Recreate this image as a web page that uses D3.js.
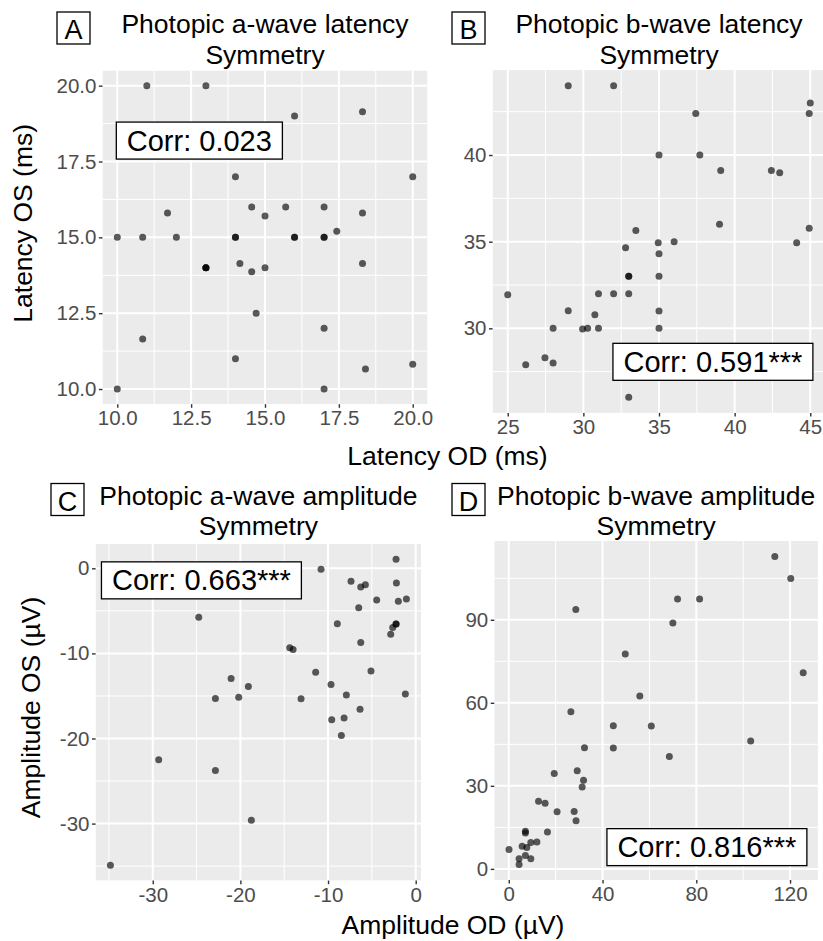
<!DOCTYPE html>
<html>
<head>
<meta charset="utf-8">
<script src="https://cdn.jsdelivr.net/npm/d3@7"></script>
<style>
  html, body { margin: 0; padding: 0; background: #fff; }
  svg { display: block; font-family: "Liberation Sans", Arial, Helvetica, sans-serif; }
</style>
</head>
<body>
<svg id="chart" width="823" height="941"></svg>
<script>
// ---------------- DATA ----------------
// A: Photopic a-wave latency (ms)
const aLatOD = [11, 13, 16, 18.3, 14, 20, 11.7, 14.55, 15.7, 17, 15, 18.3, 10, 10.86, 12, 14, 14, 16, 16, 17, 17, 17.43, 13, 13, 13, 14.15, 14.55, 15, 18.3, 14.7, 17, 10.86, 14, 18.4, 20, 10, 17];
const aLatOS = [20, 20, 19, 19.14, 17, 17, 15.8, 16, 16, 16, 15.7, 15.8, 15, 15, 15, 15, 15, 15, 15, 15, 15, 15.2, 14, 14, 14, 14.14, 13.87, 14, 14.14, 12.5, 12, 11.65, 11, 10.66, 10.82, 10, 10];
// B: Photopic b-wave latency (ms)
const bLatOD = [29, 32, 45, 44.93, 37.43, 35, 37.7, 39.08, 42.43, 42.98, 39, 44.93, 44.1, 33.47, 32.79, 34.95, 36, 35, 33, 33, 35, 25, 31, 32, 33, 29, 30.76, 35, 28, 29.95, 30.28, 31, 35, 26.19, 27.46, 28, 33];
const bLatOS = [44, 44, 43, 42.4, 42.4, 40, 40, 39.1, 39.1, 38.98, 36, 35.77, 34.94, 35.65, 34.65, 34.94, 35, 34.3, 33, 33, 33, 31.94, 32, 32, 32, 31.02, 30.79, 31, 30, 29.96, 30, 30, 30, 27.9, 28.31, 28, 26.02];
// C: Photopic a-wave amplitude (µV)
const aAmpOD = [-2.24, -10.8, -7.38, -6.27, -5.74, -2.2, -4.45, -1.98, -1.06, -6.5, -24.75, -8.94, -2.24, -2.24, -2.62, -2.85, -6.27, -14.37, -13.99, -11.41, -5.1, -21.06, -9.66, -19.09, -22.85, -20.19, -13.08, -7.91, -1.18, -6.35, -9.58, -8.17, -8.48, -29.32, -22.85, -18.75, -34.83];
const aAmpOS = [1.06, -0.12, -1.53, -2.2, -1.92, -1.73, -3.73, -3.88, -3.61, -4.63, -5.76, -6.51, -6.55, -6.55, -6.94, -7.76, -8.71, -9.33, -9.53, -12.2, -12.08, -12.94, -13.65, -13.88, -15.29, -15.14, -15.33, -14.9, -14.78, -16.55, -17.8, -17.6, -19.65, -22.5, -23.76, -29.6, -34.9];
// D: Photopic b-wave amplitude (µV)
const bAmpOD = [113.5, 120.3, 72, 81.4, 28.6, 70, 49.7, 125.6, 55.9, 26.5, 44.6, 60.8, 103.2, 32.3, 44.6, 68.5, 19.4, 29.2, 31.9, 31.3, 12.7, 15.5, 20.6, 27.9, 28.7, 16.5, 7.1, 7.1, 12.0, 9.4, 5.7, 7.7, 0.1, 7.1, 4.4, 9.4, 4.4];
const bAmpOS = [112.9, 104.9, 97.5, 97.5, 93.7, 88.8, 77.6, 70.9, 62.5, 56.8, 51.7, 51.6, 46.2, 43.8, 43.7, 40.6, 34.5, 35.5, 32.0, 29.6, 24.4, 23.7, 20.6, 20.7, 17.4, 13.3, 13.6, 13.0, 9.7, 9.5, 8.2, 7.7, 7.0, 4.8, 3.7, 3.7, 1.55];

const ticksLatA = [10, 12.5, 15, 17.5, 20];
const ticksLatBx = [25, 30, 35, 40, 45];
const ticksLatBy = [30, 35, 40];
const ticksAmpCx = [-30, -20, -10, 0];
const ticksAmpCy = [-30, -20, -10, 0];
const ticksAmpDx = [0, 40, 80, 120];
const ticksAmpDy = [0, 30, 60, 90];

const titles = ["Photopic a-wave latency", "Photopic b-wave latency", "Photopic a-wave amplitude", "Photopic b-wave amplitude"];
const subtitle = "Symmetry";
const tags = ["A", "B", "C", "D"];
const corrLabels = ["Corr: 0.023", "Corr: 0.591***", "Corr: 0.663***", "Corr: 0.816***"];
const xTitles = ["Latency OD (ms)", "Amplitude OD (µV)"];
const yTitles = ["Latency OS (ms)", "Amplitude OS (µV)"];

// ---------------- LAYOUT ----------------
const panels = [
  { x: aLatOD, y: aLatOS, xt: ticksLatA, yt: ticksLatA, fmt: d3.format(".1f"),
    rect: [102.5, 70.5, 427.5, 404.2], tag: [57, 12], tb: [32.5, 63.5], corr: [0.298, 0.21] },
  { x: bLatOD, y: bLatOS, xt: ticksLatBx, yt: ticksLatBy, fmt: d => String(d),
    rect: [492.6, 70.1, 825.4, 412.9], tag: [452, 12], tb: [32.5, 63.5], corr: [0.662, 0.851] },
  { x: aAmpOD, y: aAmpOS, xt: ticksAmpCx, yt: ticksAmpCy, fmt: d => String(d),
    rect: [95.6, 544, 421.2, 880.6], tag: [51, 483.5], tb: [505, 535], corr: [0.325, 0.108] },
  { x: bAmpOD, y: bAmpOS, xt: ticksAmpDx, yt: ticksAmpDy, fmt: d => String(d),
    rect: [494.3, 541, 817.9, 880], tag: [452, 483.5], tb: [505, 535], corr: [0.657, 0.903] }
];

const svg = d3.select("#chart");
svg.append("rect").attr("width", 823).attr("height", 941).attr("fill", "#fff");

function padExtent(arr) {
  const e = d3.extent(arr);
  const p = (e[1] - e[0]) * 0.05;
  return [e[0] - p, e[1] + p];
}
function minorBreaks(major, dom) {
  const bd = major[1] - major[0];
  const b = [major[0] - bd, ...major, major[major.length - 1] + bd];
  const out = [];
  for (let i = 0; i < b.length - 1; i++) {
    const m = (b[i] + b[i + 1]) / 2;
    if (m >= dom[0] && m <= dom[1]) out.push(m);
  }
  return out;
}

panels.forEach((p, i) => {
  const [l, t, r, b] = p.rect;
  const xs = d3.scaleLinear().domain(padExtent(p.x)).range([l, r]);
  const ys = d3.scaleLinear().domain(padExtent(p.y)).range([b, t]);
  const g = svg.append("g");

  const clipId = "clip" + i;
  svg.append("clipPath").attr("id", clipId).append("rect")
    .attr("x", l).attr("y", t).attr("width", r - l).attr("height", b - t);

  const pg = g.append("g").attr("clip-path", `url(#${clipId})`);
  pg.append("rect").attr("x", l).attr("y", t).attr("width", r - l).attr("height", b - t).attr("fill", "#EBEBEB");

  const xMinor = minorBreaks(p.xt, xs.domain());
  const yMinor = minorBreaks(p.yt, ys.domain());
  pg.selectAll(".xmin").data(xMinor).join("line")
    .attr("x1", d => xs(d)).attr("x2", d => xs(d)).attr("y1", t).attr("y2", b)
    .attr("stroke", "#fff").attr("stroke-width", 1);
  pg.selectAll(".ymin").data(yMinor).join("line")
    .attr("y1", d => ys(d)).attr("y2", d => ys(d)).attr("x1", l).attr("x2", r)
    .attr("stroke", "#fff").attr("stroke-width", 1);
  pg.selectAll(".xmaj").data(p.xt).join("line")
    .attr("x1", d => xs(d)).attr("x2", d => xs(d)).attr("y1", t).attr("y2", b)
    .attr("stroke", "#fff").attr("stroke-width", 2);
  pg.selectAll(".ymaj").data(p.yt).join("line")
    .attr("y1", d => ys(d)).attr("y2", d => ys(d)).attr("x1", l).attr("x2", r)
    .attr("stroke", "#fff").attr("stroke-width", 2);

  // points
  pg.selectAll("circle").data(p.x.map((v, k) => [v, p.y[k]])).join("circle")
    .attr("cx", d => xs(d[0])).attr("cy", d => ys(d[1])).attr("r", 3.5)
    .attr("fill", "#000").attr("fill-opacity", 0.64);

  // axes
  const xAxis = d3.axisBottom(xs).tickValues(p.xt).tickFormat(p.fmt).tickSize(3.6).tickPadding(3);
  const yAxis = d3.axisLeft(ys).tickValues(p.yt).tickFormat(p.fmt).tickSize(3.6).tickPadding(2.5);
  const gx = g.append("g").attr("transform", `translate(0,${b})`).call(xAxis);
  const gy = g.append("g").attr("transform", `translate(${l},0)`).call(yAxis);
  [gx, gy].forEach(a => {
    a.select(".domain").remove();
    a.selectAll(".tick line").attr("stroke", "#333333").attr("stroke-width", 1.4);
    a.selectAll(".tick text").attr("fill", "#4D4D4D").style("font-size", "20.5px")
      .style("font-family", '"Liberation Sans", Arial, sans-serif');
  });

  // title
  const tcx = (l + r) / 2;
  g.append("text").attr("x", tcx).attr("y", p.tb[0]).attr("text-anchor", "middle")
    .style("font-size", "26.5px").attr("fill", "#000").text(titles[i]);
  g.append("text").attr("x", tcx).attr("y", p.tb[1]).attr("text-anchor", "middle")
    .style("font-size", "26.5px").attr("fill", "#000").text(subtitle);

  // tag box
  g.append("rect").attr("x", p.tag[0]).attr("y", p.tag[1]).attr("width", 33).attr("height", 32)
    .attr("fill", "#fff").attr("stroke", "#000").attr("stroke-width", 1.3);
  g.append("text").attr("x", p.tag[0] + 16.5).attr("y", p.tag[1] + 27).attr("text-anchor", "middle")
    .style("font-size", "27px").attr("fill", "#000").text(tags[i]);

  // correlation label
  const ccx = l + p.corr[0] * (r - l);
  const ccy = t + p.corr[1] * (b - t);
  const ct = g.append("text").attr("x", ccx).attr("y", ccy + 10).attr("text-anchor", "middle")
    .style("font-size", "29px").attr("fill", "#000").text(corrLabels[i]);
  const bb = ct.node().getBBox();
  g.insert("rect", () => ct.node())
    .attr("x", bb.x - 10.5).attr("y", ccy - 18.5).attr("width", bb.width + 21).attr("height", 37)
    .attr("fill", "#fff").attr("stroke", "#000").attr("stroke-width", 1.3);
});

// shared axis titles
svg.append("text").attr("x", 447.5).attr("y", 465).attr("text-anchor", "middle")
  .style("font-size", "26.5px").attr("fill", "#000").text(xTitles[0]);
svg.append("text").attr("x", 453).attr("y", 934).attr("text-anchor", "middle")
  .style("font-size", "26.5px").attr("fill", "#000").text(xTitles[1]);
svg.append("text").attr("transform", "translate(31.5,223.3) rotate(-90)").attr("text-anchor", "middle")
  .style("font-size", "26.5px").attr("fill", "#000").text(yTitles[0]);
svg.append("text").attr("transform", "translate(39.5,707.5) rotate(-90)").attr("text-anchor", "middle")
  .style("font-size", "26.5px").attr("fill", "#000").text(yTitles[1]);
</script>
</body>
</html>
